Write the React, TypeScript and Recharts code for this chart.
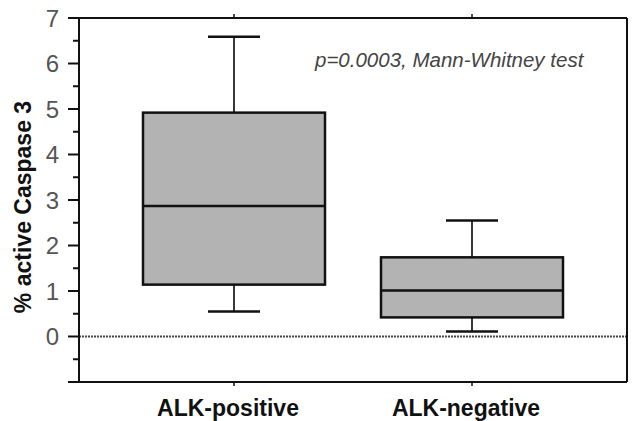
import { Bar, ComposedChart, ReferenceLine, XAxis, YAxis } from 'recharts';

const groups = ['ALK-positive', 'ALK-negative'];
const minValues = [0.55, 0.11];
const q1Values = [1.14, 0.42];
const medianValues = [2.87, 1.01];
const q3Values = [4.92, 1.74];
const maxValues = [6.59, 2.55];

const yTicks = [-1, -0.5, 0, 0.5, 1, 1.5, 2, 2.5, 3, 3.5, 4, 4.5, 5, 5.5, 6, 6.5, 7];
const yLabels = [0, 1, 2, 3, 4, 5, 6, 7];

const note = 'p=0.0003, Mann-Whitney test';
const yTitle = '% active Caspase 3';

interface BoxRow {
  group: string;
  min: number;
  q1: number;
  median: number;
  q3: number;
  max: number;
}

const rows: BoxRow[] = groups.map((group, i) => ({
  group,
  min: minValues[i],
  q1: q1Values[i],
  median: medianValues[i],
  q3: q3Values[i],
  max: maxValues[i],
}));

const FONT = '"Liberation Sans", Arial, sans-serif';

// box drawn from the bar's own pixel box, whiskers placed with the same scale
function BoxShape(props: any) {
  const { x, y, width, height, payload } = props;
  const top = Math.min(y, y + height);
  const h = Math.abs(height);
  const k = h / (payload.q3 - payload.q1);
  const py = (v: number) => top + (payload.q3 - v) * k;
  const cx = x + width / 2;
  const cap = 26;
  return (
    <g>
      <line x1={cx} x2={cx} y1={py(payload.max)} y2={top} stroke="#222" strokeWidth={1.8} />
      <line x1={cx} x2={cx} y1={top + h} y2={py(payload.min)} stroke="#222" strokeWidth={1.8} />
      <line x1={cx - cap} x2={cx + cap} y1={py(payload.max)} y2={py(payload.max)} stroke="#111" strokeWidth={2.5} />
      <line x1={cx - cap} x2={cx + cap} y1={py(payload.min)} y2={py(payload.min)} stroke="#111" strokeWidth={2.5} />
      <rect x={x} y={top} width={width} height={h} fill="#b3b3b3" stroke="#111" strokeWidth={2.5} />
      <line x1={x} x2={x + width} y1={py(payload.median)} y2={py(payload.median)} stroke="#111" strokeWidth={2.5} />
    </g>
  );
}

function LeftTick(props: any) {
  const { x, y, payload } = props;
  const v = payload.value as number;
  const major = Number.isInteger(v);
  return (
    <g>
      <line x1={x - (major ? 11 : 6)} x2={x} y1={y} y2={y} stroke="#111" strokeWidth={2} />
      {yLabels.includes(v) && (
        <text x={x - 20} y={y} dy="0.36em" textAnchor="end" fontSize={24} fill="#555" fontFamily={FONT}>
          {v}
        </text>
      )}
    </g>
  );
}

function BottomTick(props: any) {
  const { x, y, payload } = props;
  return (
    <g>
      <line x1={x} x2={x} y1={y} y2={y + 4} stroke="#111" strokeWidth={1.5} />
      <text x={x - 6} y={y + 34} textAnchor="middle" fontSize={23} fontWeight="bold" fill="#111" fontFamily={FONT}>
        {payload.value}
      </text>
    </g>
  );
}

export default function App() {
  return (
    <div style={{ position: 'absolute', left: 0, top: 0, width: 634, height: 421, background: '#fff' }}>
      <ComposedChart
        width={634}
        height={421}
        data={rows}
        margin={{ top: 0, right: 0, left: 0, bottom: 0 }}
        barSize={182}
      >
        <XAxis
          dataKey="group"
          xAxisId="bottom"
          height={39}
          padding={{ left: 36, right: 36 }}
          axisLine={{ stroke: '#111', strokeWidth: 2 }}
          tickLine={false}
          tickSize={0}
          tickMargin={0}
          tick={<BottomTick />}
        />
        <XAxis
          dataKey="group"
          xAxisId="top"
          orientation="top"
          height={18}
          padding={{ left: 36, right: 36 }}
          axisLine={{ stroke: '#111', strokeWidth: 2 }}
          tickLine={{ stroke: '#111', strokeWidth: 1.5 }}
          tickSize={4}
          tick={() => <g />}
        />
        <YAxis
          yAxisId="left"
          width={79}
          type="number"
          domain={[-1, 7]}
          ticks={yTicks}
          interval={0}
          axisLine={{ stroke: '#111', strokeWidth: 2 }}
          tickLine={false}
          tickSize={0}
          tickMargin={0}
          tick={<LeftTick />}
          label={{
            content: ({ viewBox }: any) => {
              const lx = viewBox.x + 23;
              const ly = viewBox.y + viewBox.height / 2 + 7;
              return (
                <text
                  x={lx}
                  y={ly}
                  transform={`rotate(-90, ${lx}, ${ly})`}
                  textAnchor="middle"
                  dy="0.35em"
                  fontSize={23}
                  fontWeight="bold"
                  fill="#111"
                  fontFamily={FONT}
                >
                  {yTitle}
                </text>
              );
            },
          }}
        />
        <YAxis
          yAxisId="right"
          orientation="right"
          width={7}
          type="number"
          domain={[-1, 7]}
          ticks={yTicks}
          interval={0}
          axisLine={{ stroke: '#111', strokeWidth: 2 }}
          tickLine={{ stroke: '#111', strokeWidth: 2 }}
          tickSize={5}
          tick={() => <g />}
        />
        <ReferenceLine
          yAxisId="left"
          xAxisId="bottom"
          y={0}
          stroke="#444"
          strokeWidth={1.8}
          strokeDasharray="2 1"
        />
        <Bar
          xAxisId="bottom"
          yAxisId="left"
          dataKey={(d: BoxRow) => [d.q1, d.q3]}
          shape={<BoxShape />}
          isAnimationActive={false}
        />
        <text x={315} y={67} fontSize={20.5} fontStyle="italic" fill="#444" fontFamily={FONT}>
          {note}
        </text>
      </ComposedChart>
    </div>
  );
}
